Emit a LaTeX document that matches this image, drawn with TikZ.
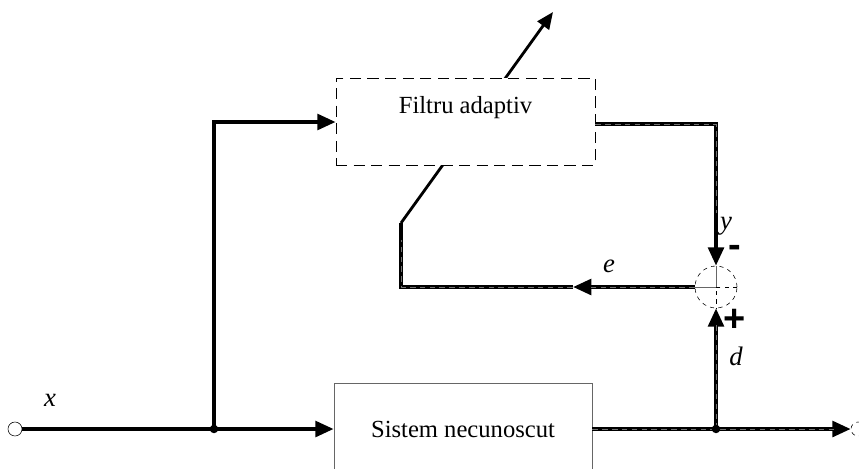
\documentclass[tikz,border=0pt]{standalone}
\usepackage{fontspec}
\setmainfont{Liberation Serif}
\newfontfamily\signfont{Liberation Sans}
\usetikzlibrary{arrows.meta}

\begin{document}
\begin{tikzpicture}[x=0.025cm,y=-0.025cm,
  sig/.style={line width=2.8pt},
  sigd/.style={sig,postaction={draw=black!55,line width=0.7pt,dash pattern=on 4pt off 3pt,-,shorten >=12pt}},
  tip/.style={-{Triangle[length=13pt,width=11pt]}},
  txt/.style={font=\fontsize{17.5}{20}\selectfont},
  lbl/.style={font=\fontsize{19}{20}\selectfont\itshape},
  sgn/.style={font=\fontsize{27}{27}\selectfont\signfont\bfseries}]
\useasboundingbox (0,0) rectangle (859,468);
% terminals and branch points
\node[circle,draw,thin,fill=white,minimum size=0.35cm,inner sep=0] (in) at (15,429) {};
\node[circle,draw,thin,dashed,minimum size=0.35cm,inner sep=0] (out) at (858,429) {};
\coordinate (split) at (214,429);
\coordinate (tap) at (716,429);
% adjustment arrow, partly hidden by the filter box
\coordinate (fbcorner) at (401,287);
\coordinate (fbknee) at (401,223);
\coordinate (adj) at (553,12);
\draw[line width=2pt,-{Triangle[length=12pt,width=10pt]}] (fbknee) -- (adj);
% blocks
\node[draw,thin,dash pattern=on 8pt off 4.5pt,fill=white,minimum width=6.475cm,minimum height=2.175cm,
  label={[txt,anchor=center,yshift=-0.75cm]north:Filtru adaptiv}] (filt) at (465.5,121.5) {};
\node[draw=black!60,thin,txt,minimum width=6.45cm,minimum height=2.3cm] (sys) at (463,429) {Sistem necunoscut};
\node[circle,draw,thin,dashed,minimum size=1.05cm,inner sep=0] (sum) at (716,287) {};
\draw[thin,black!60] (sum.west) -- (sum.center) -- (sum.north);
\draw[thin,dashed] (sum.east) -- (sum.center) -- (sum.south);
% signal paths
\draw[sig,tip] (in) -- (sys.west);
\draw[sig,tip] (split) |- (filt.west |- 0,122);
\draw[sigd] (filt.east |- 0,124) -| (716,230);
\draw[sig,tip] (716,230) -- (sum.north);
\draw[sigd,tip] (sys.east) -- (out.west);
\draw[sigd,tip] (tap) -- (sum.south);
\coordinate (emark) at (573,287);
\draw[sigd,tip] (sum.west) -- (emark);
\draw[sigd] (emark) -- (fbcorner) -- (fbknee);
\fill (split) circle (3pt);
\fill (tap) circle (3pt);
% labels
\node[lbl] (lx) at (50,400) {x};
\node[lbl] (ly) at (726,226) {y};
\node[lbl] (le) at (609,266) {e};
\node[lbl] (ld) at (736,356) {d};
\node[sgn] (lminus) at (735,251) {-};
\node[sgn] (lplus) at (735,320) {+};
\end{tikzpicture}
\end{document}
